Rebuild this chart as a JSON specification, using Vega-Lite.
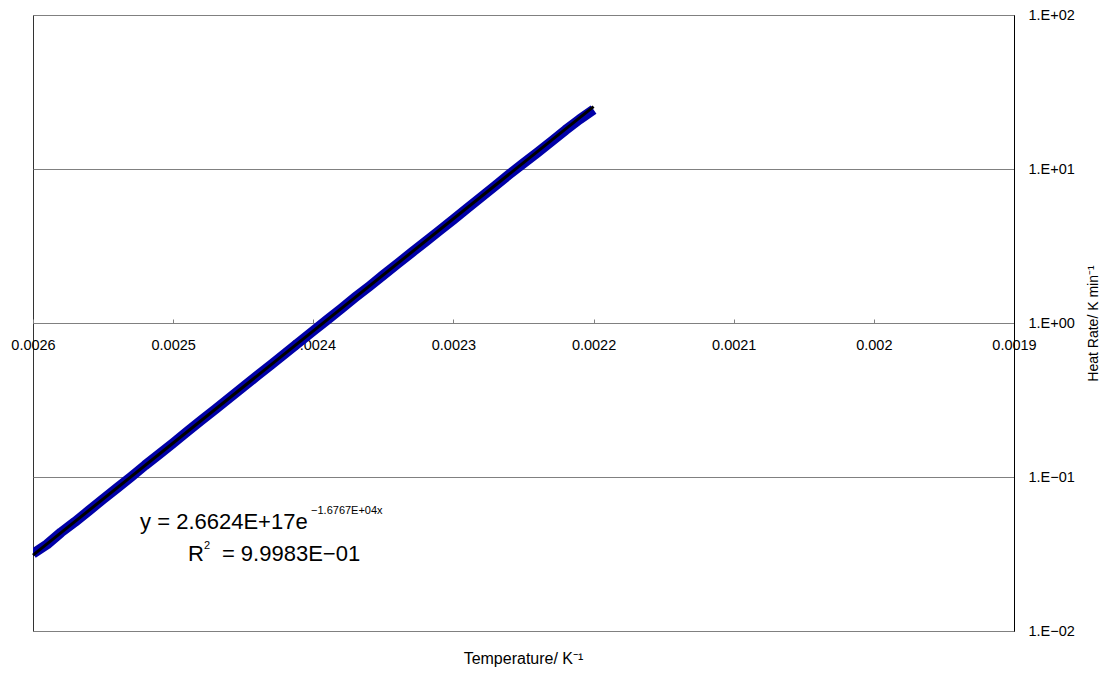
{
  "$schema": "https://vega.github.io/schema/vega-lite/v6.json",
  "width": 981,
  "height": 616,
  "autosize": "none",
  "padding": {"left": 33, "top": 15, "right": 89, "bottom": 42},
  "background": "white",
  "config": {
    "view": {"stroke": "#333333", "strokeWidth": 1},
    "font": "Liberation Sans"
  },
  "title": {
    "text": "Temperature/ K⁻¹",
    "orient": "bottom",
    "anchor": "middle",
    "fontSize": 16,
    "fontWeight": "normal",
    "font": "Liberation Sans",
    "color": "black",
    "offset": 13
  },
  "datasets": {
    "obs": [
      {"x": 0.00260, "y": 0.0318},
      {"x": 0.00259, "y": 0.0365},
      {"x": 0.00258, "y": 0.0437},
      {"x": 0.00257, "y": 0.0512},
      {"x": 0.00256, "y": 0.0606},
      {"x": 0.00255, "y": 0.0718},
      {"x": 0.00254, "y": 0.0848},
      {"x": 0.00253, "y": 0.1003},
      {"x": 0.00252, "y": 0.1192},
      {"x": 0.00251, "y": 0.1405},
      {"x": 0.00250, "y": 0.1660},
      {"x": 0.00249, "y": 0.1968},
      {"x": 0.00248, "y": 0.2330},
      {"x": 0.00247, "y": 0.2750},
      {"x": 0.00246, "y": 0.3250},
      {"x": 0.00245, "y": 0.3850},
      {"x": 0.00244, "y": 0.4550},
      {"x": 0.00243, "y": 0.5370},
      {"x": 0.00242, "y": 0.6350},
      {"x": 0.00241, "y": 0.7520},
      {"x": 0.00240, "y": 0.8880},
      {"x": 0.00239, "y": 1.0500},
      {"x": 0.00238, "y": 1.2400},
      {"x": 0.00237, "y": 1.4700},
      {"x": 0.00236, "y": 1.7300},
      {"x": 0.00235, "y": 2.0500},
      {"x": 0.00234, "y": 2.4200},
      {"x": 0.00233, "y": 2.8600},
      {"x": 0.00232, "y": 3.3700},
      {"x": 0.00231, "y": 3.9800},
      {"x": 0.00230, "y": 4.7000},
      {"x": 0.00229, "y": 5.5800},
      {"x": 0.00228, "y": 6.6000},
      {"x": 0.00227, "y": 7.8000},
      {"x": 0.00226, "y": 9.2500},
      {"x": 0.00225, "y": 10.900},
      {"x": 0.00224, "y": 12.800},
      {"x": 0.00223, "y": 15.100},
      {"x": 0.00222, "y": 17.900},
      {"x": 0.00221, "y": 21.000},
      {"x": 0.00220, "y": 24.300}
    ],
    "trend": [
      {"x": 0.0026, "y": 0.0311},
      {"x": 0.0022, "y": 25.4}
    ],
    "notes": [
      {"x": 0.0025236, "y": 0.04595, "label": "y = 2.6624E+17e", "size": 22},
      {"x": 0.0024016, "y": 0.0575, "label": "−1.6767E+04x", "size": 11},
      {"x": 0.0024894, "y": 0.02848, "label": "R", "size": 22},
      {"x": 0.0024780, "y": 0.03407, "label": "2", "size": 11},
      {"x": 0.0024652, "y": 0.02848, "label": "= 9.9983E−01", "size": 22}
    ]
  },
  "layer": [
    {
      "data": {"name": "obs"},
      "mark": {"type": "line", "color": "#0000A8", "strokeWidth": 10, "strokeCap": "butt", "strokeJoin": "round", "clip": true},
      "encoding": {
        "x": {
          "field": "x", "type": "quantitative",
          "scale": {"domain": [0.0019, 0.0026], "reverse": true, "zero": false, "nice": false},
          "axis": {
            "title": null,
            "values": [0.0026, 0.0025, 0.0024, 0.0023, 0.0022, 0.0021, 0.002, 0.0019],
            "format": "~g",
            "offset": -308,
            "grid": false,
            "domainColor": "#808080",
            "tickColor": "#808080",
            "tickSize": -4,
            "labelPadding": 19,
            "labelFontSize": 14.5,
            "labelColor": "black",
            "labelFont": "Liberation Sans",
            "labelFlush": false
          }
        },
        "y": {
          "field": "y", "type": "quantitative",
          "scale": {"type": "log", "domain": [0.01, 100], "nice": false},
          "axis": {
            "orient": "right",
            "title": "Heat Rate/ K min⁻¹",
            "titleAngle": 270,
            "titleBaseline": "top",
            "titleFontSize": 14,
            "titleFontWeight": "normal",
            "titleColor": "black",
            "titleFont": "Liberation Sans",
            "titlePadding": 12,
            "values": [0.01, 0.1, 1, 10, 100],
            "labelExpr": "'1.E' + (datum.value >= 1 ? '+' : '−') + '0' + abs(round(log(datum.value) / LN10))",
            "grid": true,
            "gridColor": "#808080",
            "gridWidth": 1,
            "domainColor": "black",
            "ticks": false,
            "labelPadding": 14,
            "labelFontSize": 14.5,
            "labelColor": "black",
            "labelFont": "Liberation Sans",
            "labelFlush": false
          }
        }
      }
    },
    {
      "data": {"name": "trend"},
      "mark": {"type": "line", "color": "black", "strokeWidth": 3},
      "encoding": {
        "x": {"field": "x", "type": "quantitative"},
        "y": {"field": "y", "type": "quantitative"}
      }
    },
    {
      "data": {"name": "notes"},
      "mark": {"type": "text", "align": "left", "baseline": "alphabetic", "color": "black", "font": "Liberation Sans"},
      "encoding": {
        "x": {"field": "x", "type": "quantitative"},
        "y": {"field": "y", "type": "quantitative"},
        "text": {"field": "label"},
        "size": {"field": "size", "type": "quantitative", "scale": null}
      }
    }
  ]
}
